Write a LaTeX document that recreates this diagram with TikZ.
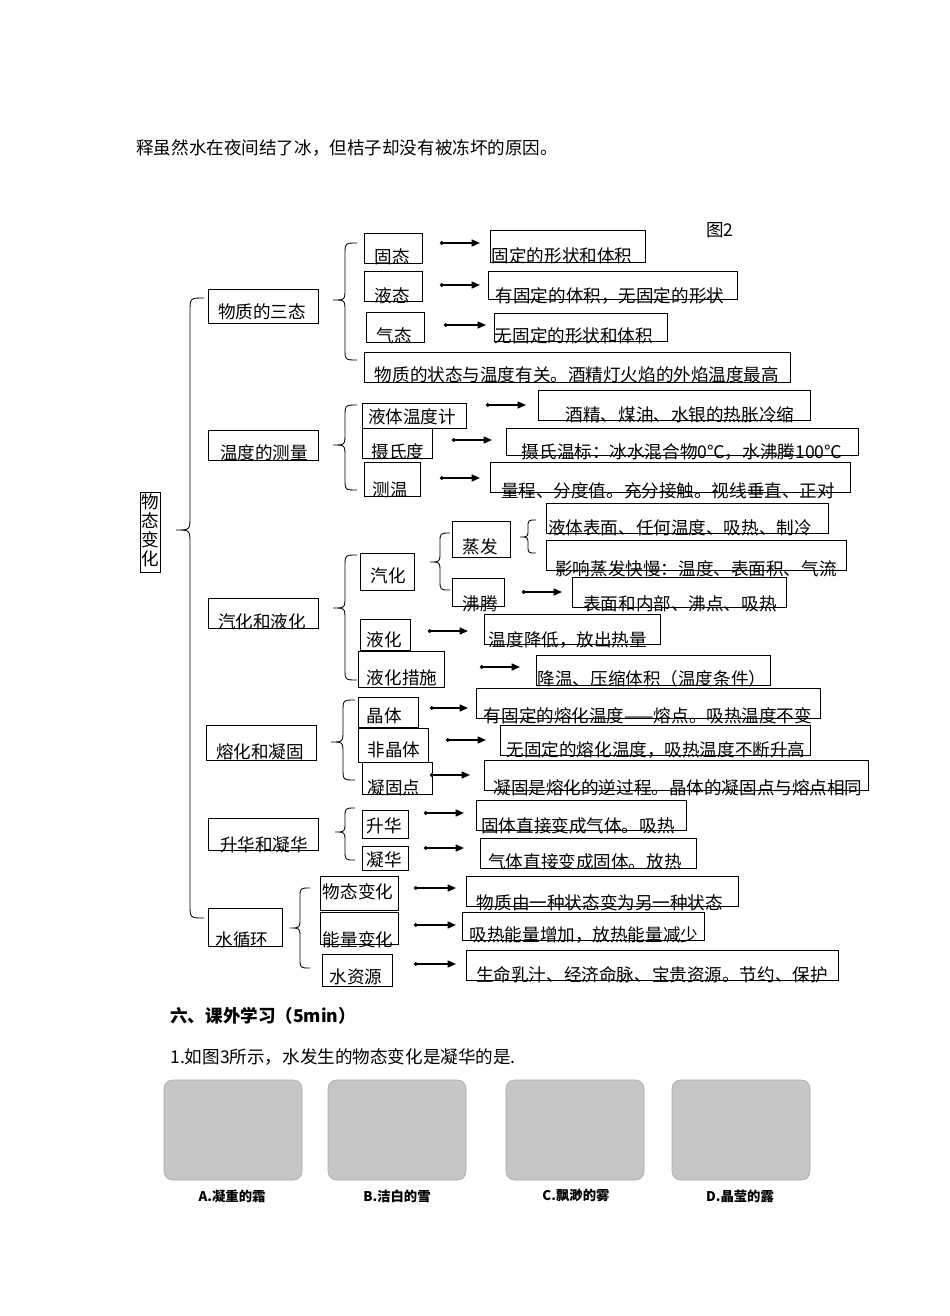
\documentclass[tikz,border=0pt]{standalone}
\usepackage{fontspec}
\setmainfont{Noto Sans CJK SC}
\usetikzlibrary{arrows.meta,fit}

\tikzset{
  bx/.style={draw, line width=0.6pt, inner sep=0pt},
  tx/.style={inner sep=0pt, font=\fontsize{12.5}{15}\selectfont},
  arr/.style={line width=1pt, {Circle[length=2.5pt]}-{Triangle[length=6pt,width=5pt]}},
  br/.style={line width=0.6pt},
  pic/.style={fill=gray!45, draw=gray!70, rounded corners=6pt},
}
% box: name, x1, y1, x2, y2, text x, text y, text
\newcommand\bx[8]{\node[bx, fit={(#2,#3)(#4,#5)}] (#1) {};
  \node[tx, align=center] (#1-t) at (#6,#7) {#8};}
% arrow: x1, x2, y
\newcommand\arw[3]{\coordinate (s) at (#1,#3); \coordinate (e) at (#2,#3); \draw[arr] (s) -- (e);}
% brace: x, top, tip, bottom, radius
\newcommand\cbr[5]{\draw[br] (#1+#5,#2) .. controls (#1,#2) .. (#1,#2+#5) -- (#1,#3-#5)
  .. controls (#1,#3) .. (#1-#5,#3) .. controls (#1,#3) .. (#1,#3+#5) -- (#1,#4-#5)
  .. controls (#1,#4) .. (#1+#5,#4);}

\begin{document}
\begin{tikzpicture}[x=0.25mm, y=-0.25mm]
  \useasboundingbox (0,0) rectangle (950,1316);

  \node[tx, anchor=west] (intro) at (136,148) {释虽然水在夜间结了冰，但桔子却没有被冻坏的原因。};
  \node[tx] (fig2) at (720,230) {图2};

  % root
  \node[bx, fit={(140,492)(160,572)}] (root) {};
  \node[tx, align=center, font=\fontsize{12.5}{13.5}\selectfont] (root-t) at (150,530) {物\\态\\变\\化};
  \cbr{190}{298}{530}{918}{14}

  % 物质的三态
  \bx{sa}{208}{289}{318}{323}{262}{312}{物质的三态}
  \cbr{345}{243}{300}{360}{12}
  \bx{gt}{364}{233}{422}{263}{392}{257}{固态}
  \arw{440}{480}{243}
  \bx{gt2}{490}{230}{645}{262}{562}{256}{固定的形状和体积}
  \bx{yt}{364}{271}{422}{301}{392}{296}{液态}
  \arw{440}{480}{285}
  \bx{yt2}{488}{271}{737}{299}{610}{296}{有固定的体积，无固定的形状}
  \bx{qt}{366}{312}{424}{342}{394}{336}{气态}
  \arw{444}{486}{325}
  \bx{qt2}{494}{313}{667}{341}{574}{336}{无固定的形状和体积}
  \bx{zt}{364}{352}{790}{382}{577}{375}{物质的状态与温度有关。酒精灯火焰的外焰温度最高}

  % 温度的测量
  \bx{wd}{208}{430}{318}{460}{264}{453}{温度的测量}
  \cbr{345}{405}{445}{490}{12}
  \bx{wdj}{362}{403}{466}{428}{412}{417}{液体温度计}
  \arw{486}{526}{405}
  \bx{wdj2}{538}{390}{810}{420}{680}{415}{酒精、煤油、水银的热胀冷缩}
  \bx{ssd}{362}{428}{432}{458}{398}{452}{摄氏度}
  \arw{452}{492}{440}
  \bx{ssd2}{506}{428}{858}{455}{682}{452}{摄氏温标：冰水混合物0℃，水沸腾100℃}
  \bx{cw}{364}{462}{420}{496}{390}{490}{测温}
  \arw{440}{480}{478}
  \bx{cw2}{490}{462}{850}{492}{668}{491}{量程、分度值。充分接触。视线垂直、正对}

  % 汽化和液化
  \bx{qh}{208}{598}{318}{628}{262}{622}{汽化和液化}
  \cbr{345}{555}{608}{680}{12}
  \bx{qhh}{360}{553}{414}{590}{388}{576}{汽化}
  \cbr{440}{533}{562}{590}{10}
  \bx{zf}{452}{521}{510}{557}{480}{547}{蒸发}
  \cbr{528}{520}{537}{553}{8}
  \bx{zf1}{546}{503}{828}{533}{680}{528}{液体表面、任何温度、吸热、制冷}
  \bx{zf2}{546}{540}{846}{570}{696}{569}{影响蒸发快慢：温度、表面积、气流}
  \bx{ft}{452}{578}{504}{606}{480}{604}{沸腾}
  \arw{522}{562}{592}
  \bx{ft2}{572}{577}{786}{607}{680}{604}{表面和内部、沸点、吸热}
  \bx{yh}{360}{619}{410}{650}{384}{640}{液化}
  \arw{428}{468}{631}
  \bx{yh2}{484}{614}{660}{644}{568}{640}{温度降低，放出热量}
  \bx{yc}{358}{651}{444}{687}{402}{678}{液化措施}
  \arw{480}{520}{667}
  \bx{yc2}{536}{655}{770}{685}{652}{679}{降温、压缩体积（温度条件）}

  % 熔化和凝固
  \bx{rh}{206}{725}{316}{760}{260}{752}{熔化和凝固}
  \cbr{343}{700}{742}{780}{12}
  \bx{jt}{358}{697}{418}{727}{384}{716}{晶体}
  \arw{430}{468}{708}
  \bx{jt2}{476}{688}{820}{718}{648}{716}{有固定的熔化温度——熔点。吸热温度不变}
  \bx{fjt}{358}{728}{428}{762}{394}{750}{非晶体}
  \arw{446}{486}{740}
  \bx{fjt2}{500}{725}{810}{755}{656}{750}{无固定的熔化温度，吸热温度不断升高}
  \bx{ngd}{362}{762}{432}{794}{394}{788}{凝固点}
  \arw{430}{470}{775}
  \bx{ngd2}{484}{760}{868}{790}{678}{788}{凝固是熔化的逆过程。晶体的凝固点与熔点相同}

  % 升华和凝华
  \bx{sh}{208}{818}{318}{850}{264}{845}{升华和凝华}
  \cbr{345}{808}{832}{860}{10}
  \bx{shh}{362}{810}{408}{838}{384}{826}{升华}
  \arw{424}{464}{813}
  \bx{shh2}{476}{800}{686}{830}{578}{826}{固体直接变成气体。吸热}
  \bx{nh}{362}{846}{408}{870}{384}{860}{凝华}
  \arw{424}{464}{848}
  \bx{nh2}{480}{838}{696}{868}{585}{862}{气体直接变成固体。放热}

  % 水循环
  \bx{sx}{208}{908}{282}{946}{242}{940}{水循环}
  \cbr{300}{888}{928}{968}{10}
  \bx{wt}{320}{876}{398}{910}{358}{892}{物态变化}
  \arw{414}{456}{888}
  \bx{wt2}{466}{876}{738}{906}{600}{903}{物质由一种状态变为另一种状态}
  \bx{nl}{320}{912}{398}{944}{358}{940}{能量变化}
  \arw{414}{456}{925}
  \bx{nl2}{462}{912}{704}{940}{584}{935}{吸热能量增加，放热能量减少}
  \bx{zy}{322}{954}{392}{986}{356}{977}{水资源}
  \arw{414}{456}{964}
  \bx{zy2}{466}{950}{838}{980}{652}{975}{生命乳汁、经济命脉、宝贵资源。节约、保护}

  % exercise
  \node[tx, anchor=west, font=\fontsize{12.5}{15}\selectfont\bfseries] (sec6) at (170,1016) {六、课外学习（5min）};
  \node[tx, anchor=west] (q1) at (170,1057) {1.如图3所示，水发生的物态变化是凝华的是.};
  \draw[pic] (164,1080) rectangle (302,1180);
  \draw[pic] (328,1080) rectangle (466,1180);
  \draw[pic] (506,1080) rectangle (644,1180);
  \draw[pic] (672,1080) rectangle (810,1180);
  \node[tx, font=\fontsize{9.5}{11}\selectfont\bfseries] (la) at (232,1196) {A.凝重的霜};
  \node[tx, font=\fontsize{9.5}{11}\selectfont\bfseries] (lb) at (397,1196) {B.洁白的雪};
  \node[tx, font=\fontsize{9.5}{11}\selectfont\bfseries] (lc) at (576,1196) {C.飘渺的雾};
  \node[tx, font=\fontsize{9.5}{11}\selectfont\bfseries] (ld) at (740,1196) {D.晶莹的露};
\end{tikzpicture}
\end{document}
